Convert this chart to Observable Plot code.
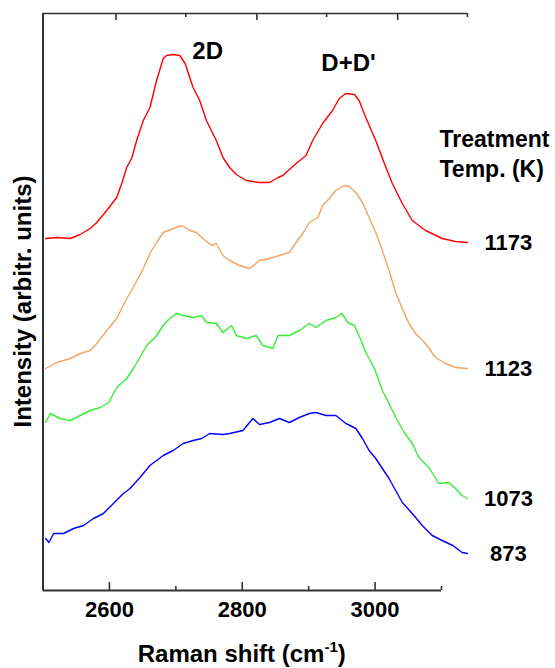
<!DOCTYPE html>
<html>
<head>
<meta charset="utf-8">
<script src="https://cdn.jsdelivr.net/npm/d3@7"></script>
<script src="https://cdn.jsdelivr.net/npm/@observablehq/plot@0.6"></script>
<style>
  html, body { margin: 0; padding: 0; background: #fff; }
  #chart svg { display: block; }
</style>
</head>
<body>
<div id="chart"></div>
<script>
// Raman spectra (wavenumber cm^-1, intensity arbitrary units)
const curve1173 = [[2504,352],[2521,353],[2541,352],[2556,356],[2571,362],[2581,368],[2596,380],[2611,393],[2619,408],[2626,423],[2634,433],[2641,450],[2651,470],[2661,483],[2671,510],[2681,532],[2686,535],[2696,536],[2706,535],[2714,527],[2726,503],[2736,490],[2746,470],[2761,450],[2771,433],[2781,423],[2791,416],[2806,410],[2826,408],[2841,408],[2854,413],[2861,415],[2881,427],[2896,435],[2906,450],[2921,467],[2936,480],[2946,492],[2956,497],[2969,496],[2976,490],[2986,473],[3001,450],[3014,427],[3026,407],[3041,387],[3056,370],[3076,360],[3101,352],[3121,349],[3139,348]];
const curve1123 = [[2504,222],[2521,228],[2541,232],[2556,237],[2571,240],[2581,247],[2596,260],[2611,272],[2626,292],[2636,303],[2651,322],[2661,337],[2671,348],[2681,358],[2696,362],[2709,365],[2721,360],[2731,358],[2741,352],[2754,345],[2761,347],[2771,335],[2781,330],[2796,325],[2811,322],[2826,330],[2841,332],[2856,335],[2871,338],[2881,348],[2891,357],[2901,368],[2914,373],[2921,385],[2931,392],[2941,400],[2954,405],[2961,404],[2971,398],[2981,388],[2991,373],[3001,358],[3011,340],[3021,320],[3031,298],[3041,282],[3051,267],[3061,257],[3076,247],[3091,233],[3106,227],[3121,223],[3139,222]];
const curve1073 = [[2504,168],[2511,177],[2526,172],[2541,170],[2556,175],[2571,180],[2586,183],[2599,188],[2611,203],[2626,212],[2636,222],[2646,233],[2656,245],[2669,253],[2681,265],[2691,272],[2701,277],[2711,275],[2726,273],[2739,275],[2746,268],[2761,267],[2771,258],[2784,265],[2791,255],[2806,252],[2821,255],[2831,245],[2846,242],[2854,255],[2871,255],[2886,260],[2901,267],[2911,263],[2926,270],[2941,273],[2950,277],[2959,268],[2969,265],[2979,250],[2986,238],[2999,222],[3004,213],[3011,200],[3021,187],[3031,173],[3044,158],[3056,147],[3066,133],[3081,123],[3096,107],[3111,108],[3121,102],[3131,95],[3139,92]];
const curve873 = [[2504,52],[2509,48],[2516,57],[2531,57],[2546,62],[2561,65],[2576,72],[2591,77],[2606,87],[2621,97],[2631,102],[2646,113],[2661,125],[2681,135],[2696,140],[2711,147],[2726,150],[2739,152],[2751,157],[2771,156],[2781,157],[2801,160],[2816,172],[2826,166],[2841,168],[2856,172],[2871,168],[2886,173],[2901,177],[2911,178],[2926,175],[2941,175],[2956,167],[2971,162],[2981,152],[2991,140],[3001,132],[3011,122],[3021,112],[3031,100],[3041,88],[3056,77],[3071,65],[3086,55],[3101,50],[3117,45],[3131,38],[3139,37]];

const temps = ["1173", "1123", "1073", "873"];
const curves = [curve1173, curve1123, curve1073, curve873];
const colors = ["#FF0000", "#F4A460", "#33F033", "#0000FF"];

// Axis ticks (cm^-1)
const xDomain = [2500, 3100];
const majorTicks = [2600, 2800, 3000];
const minorTicks = [2700, 2900, 3100];
// ticks of the top frame line as drawn in the figure
const topMajorTicks = [2610, 2822, 3034];
const topMinorTicks = [2715, 2927, 3139];
const topFrameEnd = 3139;
const yMax = 577;

// annotations
const peakNames = ["2D", "D+D'"];
const peakX = [2748, 2960];
const peakY = [532, 520];
const legendTitle = "Treatment\nTemp. (K)";
const legendTitleX = 3097;
const legendTitleY = 465;

const rows = curves.flatMap((c, i) => c.map(([x, y]) => ({temp: temps[i], x, y})));
const ends = curves.map((c, i) => ({temp: temps[i], x: c[c.length - 1][0], y: c[c.length - 1][1]}));
const peaks = peakNames.map((n, i) => ({name: n, x: peakX[i], y: peakY[i]}));

const FONT = "'Liberation Sans', Arial, Helvetica, sans-serif";
const AX = "#333";

const chart = Plot.plot({
  width: 555,
  height: 668,
  marginLeft: 42.5,
  marginRight: 114,
  marginTop: 13,
  marginBottom: 78,
  style: {fontFamily: FONT, fontWeight: "bold", color: "black", background: "white", overflow: "visible"},
  x: {domain: xDomain, label: null},
  y: {domain: [0, yMax], axis: null, label: null},
  color: {domain: temps, range: colors},
  marks: [
    // frame lines
    Plot.ruleY([0], {x1: xDomain[0], x2: xDomain[1], stroke: AX, strokeWidth: 2}),
    Plot.ruleX([xDomain[0]], {y1: 0, y2: yMax, stroke: AX, strokeWidth: 2}),
    Plot.ruleY([yMax], {x1: xDomain[0], x2: topFrameEnd, stroke: AX, strokeWidth: 1.6}),
    // inward ticks
    Plot.ruleX(majorTicks, {y1: 0, y2: 8, stroke: AX, strokeWidth: 1.6}),
    Plot.ruleX(minorTicks, {y1: 0, y2: 4, stroke: AX, strokeWidth: 1.6}),
    Plot.ruleX(topMajorTicks, {y1: yMax, y2: yMax - 7, stroke: AX, strokeWidth: 1.6}),
    Plot.ruleX(topMinorTicks, {y1: yMax, y2: yMax - 4, stroke: AX, strokeWidth: 1.6}),
    Plot.axisX({ticks: majorTicks, tickSize: 0, tickPadding: 11, fontSize: 22, fontWeight: "bold", label: null, tickFormat: d => String(d)}),
    // spectra
    Plot.line(rows, {x: "x", y: "y", z: "temp", stroke: "temp", strokeWidth: 1.4, strokeLinejoin: "round"}),
    // series labels
    Plot.text(ends, {x: "x", y: "y", text: "temp", dx: 41, textAnchor: "middle", lineAnchor: "middle", fontSize: 22, fontWeight: "bold", fill: "black"}),
    Plot.text([legendTitle], {x: legendTitleX, y: legendTitleY, text: d => d, textAnchor: "start", lineAnchor: "top", lineHeight: 1.3, fontSize: 23, fontWeight: "bold", fill: "black"}),
    Plot.text(peaks, {x: "x", y: "y", text: "name", textAnchor: "middle", lineAnchor: "bottom", fontSize: 24, fontWeight: "bold", fill: "black"})
  ]
});

// axis titles (with superscript)
const svg = d3.select(chart);
const xr = chart.scale("x").range;
const xt = svg.append("text")
  .attr("x", (xr[0] + xr[1]) / 2)
  .attr("y", 662)
  .attr("text-anchor", "middle")
  .attr("font-size", 24)
  .attr("font-weight", "bold")
  .attr("font-family", FONT)
  .attr("fill", "black");
xt.append("tspan").text("Raman shift (cm");
xt.append("tspan").attr("font-size", 15).attr("dy", -10).text("-1");
xt.append("tspan").attr("dy", 10).text(")");

const yr = chart.scale("y").range;
svg.append("text")
  .attr("transform", `translate(30.5,${(yr[0] + yr[1]) / 2}) rotate(-90)`)
  .attr("text-anchor", "middle")
  .attr("font-size", 24)
  .attr("font-weight", "bold")
  .attr("font-family", FONT)
  .attr("fill", "black")
  .text("Intensity (arbitr. units)");

document.getElementById("chart").appendChild(chart);
</script>
</body>
</html>
